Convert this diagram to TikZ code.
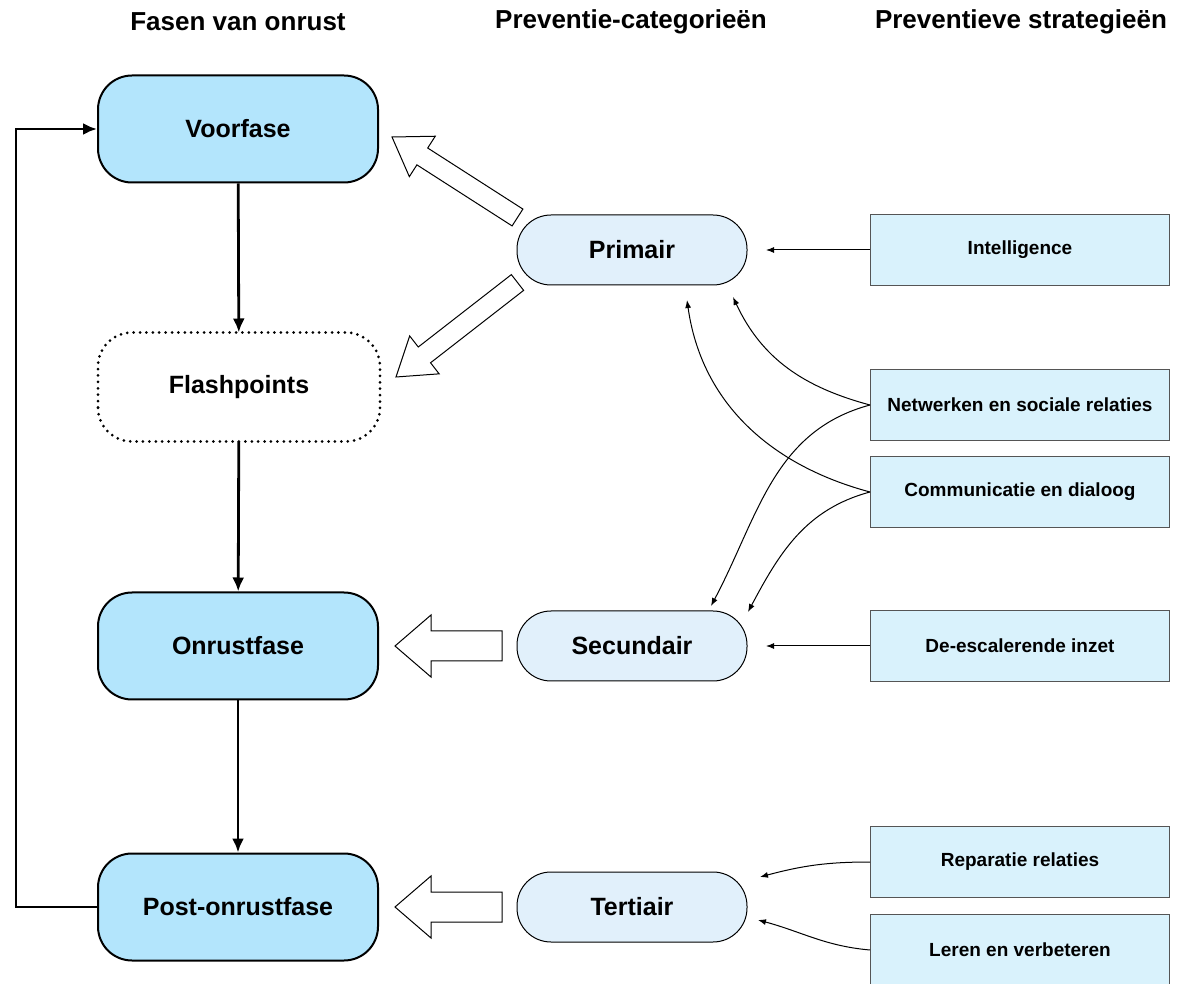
\documentclass[tikz,border=0pt]{standalone}
\usepackage{fontspec}
\setmainfont{Liberation Sans}
\usetikzlibrary{arrows.meta,calc}

\definecolor{phasefill}{HTML}{B3E5FC}
\definecolor{catfill}{HTML}{E1F0FB}
\definecolor{stratfill}{HTML}{D9F2FC}
\definecolor{stratline}{HTML}{555555}

% hollow block arrow: tail, tip, half shaft width, half head width
\newcommand{\hollowarrow}[4]{%
  \coordinate (hbase) at ($(#2)!18pt!(#1)$);
  \draw[hollow] ($(#1)!#3!90:(#2)$) -- ($(hbase)!#3!-90:(#1)$) -- ($(hbase)!#4!-90:(#1)$)
    -- (#2) -- ($(hbase)!#4!90:(#1)$) -- ($(hbase)!#3!90:(#1)$) -- ($(#1)!#3!-90:(#2)$) -- cycle;}

\begin{document}
\begin{tikzpicture}[x=0.5pt, y=-0.5pt,
    header/.style={font=\fontsize{13}{15}\selectfont\bfseries},
    phase/.style={draw, line width=1pt, rounded corners=17pt, minimum width=140pt,
      minimum height=53.5pt, fill=phasefill, font=\fontsize{12.5}{15}\selectfont\bfseries},
    flash/.style={phase, fill=white, draw=none},
    category/.style={draw, line width=0.5pt, rounded corners=17pt, minimum width=115pt,
      minimum height=35pt, fill=catfill, font=\fontsize{12.5}{15}\selectfont\bfseries},
    strategy/.style={draw=stratline, line width=0.5pt, minimum width=149.5pt,
      minimum height=35.5pt, fill=stratfill, font=\fontsize{9.5}{11}\selectfont\bfseries},
    flow/.style={line width=1.4pt, -{Latex[length=7pt,width=6pt]}},
    link/.style={line width=0.5pt, -{Latex[length=4pt,width=3pt]}},
    hollow/.style={draw, line width=0.5pt, fill=white, line join=miter}]

    \useasboundingbox (0,0) rectangle (1180,984);

    % Headers
    \node[header] (hphase) at (238,22) {Fasen van onrust};
    \node[header] (hcat) at (631,22) {Preventie-categorieën};
    \node[header] (hstrat) at (1021,22) {Preventieve strategieën};

    % Phases
    \node[phase] (voor) at (238,129) {Voorfase};
    \node[flash] (flash) at (239,387) {Flashpoints};
    \draw[line width=1.5pt, dash pattern=on 0pt off 3.2pt, line cap=round, rounded corners=17pt]
      (flash.south west) rectangle (flash.north east);
    \node[phase] (onrust) at (238,646) {Onrustfase};
    \node[phase] (post) at (238,907) {Post-onrustfase};

    % Categories
    \node[category] (prim) at (632,250) {Primair};
    \node[category] (sec) at (632,646) {Secundair};
    \node[category] (ter) at (632,907) {Tertiair};

    % Strategies
    \node[strategy] (intel) at (1020,250) {Intelligence};
    \node[strategy] (netw) at (1020,405) {Netwerken en sociale relaties};
    \node[strategy] (comm) at (1020,492) {Communicatie en dialoog};
    \node[strategy] (deesc) at (1020,646) {De-escalerende inzet};
    \node[strategy] (repar) at (1020,862) {Reparatie relaties};
    \node[strategy] (leren) at (1020,950) {Leren en verbeteren};

    % Free ends
    \coordinate (primtop) at (517.5,217.5);
    \coordinate (primbot) at (517.5,282.5);
    \coordinate (tovoor) at (392,137);
    \coordinate (toflash) at (396,377);
    \coordinate (sectail) at (502,646);
    \coordinate (toonrust) at (395,646);
    \coordinate (tertail) at (502,907);
    \coordinate (topost) at (395,907);
    \coordinate (intelend) at (766,250);
    \coordinate (netwprim) at (733,297);
    \coordinate (commprim) at (687,300);
    \coordinate (netwsec) at (711,606);
    \coordinate (commsec) at (748,612);
    \coordinate (deescend) at (766,646);
    \coordinate (reparend) at (760,877);
    \coordinate (lerenend) at (758,920);

    % Phase flow
    \draw[flow] (voor) -- (flash);
    \draw[flow] (flash) -- (onrust);
    \draw[flow] (onrust) -- (post);
    \draw[flow] (post.west) -- ++(-81,0) |- (voor.west);

    % Block arrows
    \hollowarrow{primtop}{tovoor}{5pt}{12pt}
    \hollowarrow{primbot}{toflash}{5pt}{12pt}
    \hollowarrow{sectail}{toonrust}{7.5pt}{15.5pt}
    \hollowarrow{tertail}{topost}{7.5pt}{15.5pt}

    % Strategy links
    \draw[link] (intel.west) -- (intelend);
    \draw[link] (netw.west) to[out=165, in=-65] (netwprim);
    \draw[link] (netw.west) to[out=195, in=62] (netwsec);
    \draw[link] (comm.west) to[out=165, in=-82] (commprim);
    \draw[link] (comm.west) to[out=195, in=62] (commsec);
    \draw[link] (deesc.west) -- (deescend);
    \draw[link] (repar.west) to[out=180, in=15] (reparend);
    \draw[link] (leren.west) to[out=175, in=-15] (lerenend);

\end{tikzpicture}
\end{document}
